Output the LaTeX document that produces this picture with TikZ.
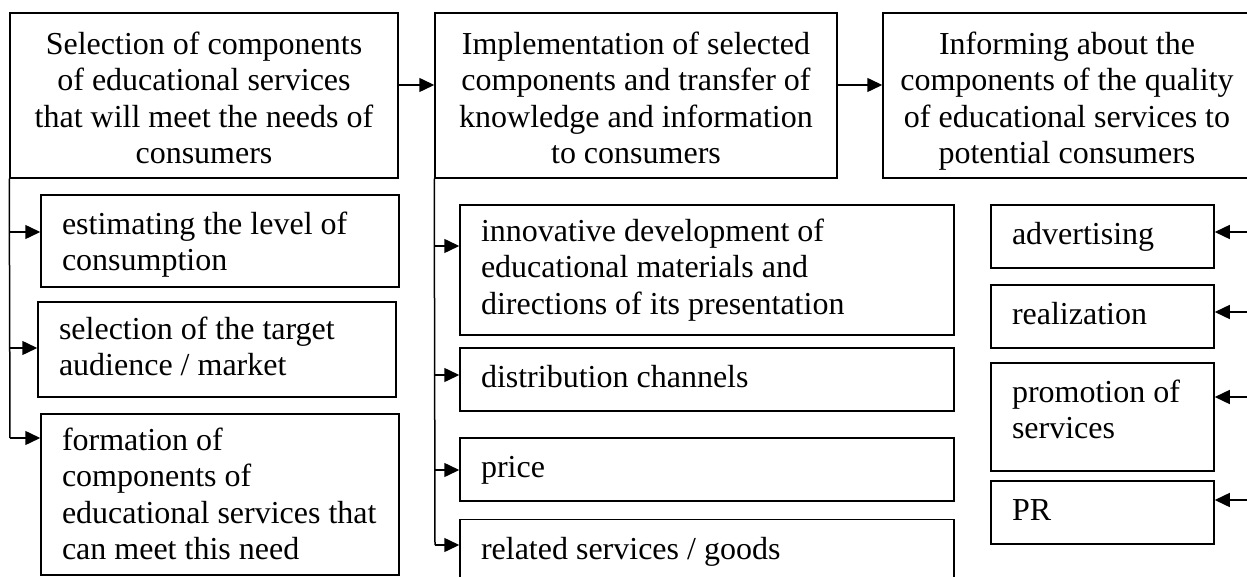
\documentclass[tikz,border=0pt]{standalone}
\usepackage{fontspec}
\setmainfont{Liberation Serif}
\usetikzlibrary{arrows.meta}
\begin{document}
\begin{tikzpicture}[x=1pt,y=-1pt,
  box/.style={draw,line width=1.5pt,inner sep=0pt,font=\fontsize{32}{36.5}\selectfont,
    execute at begin node={\spaceskip=8pt\xspaceskip=8pt\rule{0pt}{24pt}},
    execute at end node={\rule[-8pt]{0pt}{8pt}}},
  topbox/.style={box,align=center},
  subbox/.style={box,align=left},
  link/.style={line width=1.5pt},
  arr/.style={link,-{Triangle[length=15pt,width=14pt]}}]
\useasboundingbox (0,0) rectangle (1247,577);
% top row
\node[topbox,minimum width=388pt,minimum height=165pt,text width=376pt] (b1) at (204,95.5)
  {\rule{0pt}{35pt}Selection of components\\of educational services\\that will meet the needs of\\consumers};
\node[topbox,minimum width=402pt,minimum height=165pt,text width=390pt] (b2) at (636,95.5)
  {\rule{0pt}{35pt}Implementation of selected\\components and transfer of\\knowledge and information\\to consumers};
\node[topbox,minimum width=368pt,minimum height=165pt,text width=356pt] (b3) at (1067,95.5)
  {\rule{0pt}{35pt}Informing about the\\components of the quality\\of educational services to\\potential consumers};
\draw[arr] ([yshift=10.5pt]b1.east) -- ([yshift=10.5pt]b2.west);
\draw[arr] ([yshift=10.5pt]b2.east) -- ([yshift=10.5pt]b3.west);
% left column
\node[subbox,minimum width=358pt,minimum height=92pt,text width=316pt] (a1) at (220,241)
  {\rule{0pt}{31pt}estimating the level of\\consumption};
\node[subbox,minimum width=358pt,minimum height=95pt,text width=316pt] (a2) at (217,349.5)
  {selection of the target\\audience / market};
\node[subbox,minimum width=358pt,minimum height=161pt,text width=316pt] (a3) at (220,494.5)
  {\rule{0pt}{29pt}formation of\\components of\\\mbox{educational services that}\\can meet this need};
\coordinate (l1) at (10,232);
\coordinate (l2) at (10,348);
\coordinate (l3) at (10,438);
\draw[link] (b1.south west) -- (l3);
\draw[arr] (l1) -- (l1 -| a1.west);
\draw[arr] (l2) -- (l2 -| a2.west);
\draw[arr] (l3) -- (l3 -| a3.west);
% middle column
\node[subbox,minimum width=494pt,minimum height=130pt,text width=452pt] (m1) at (707,270)
  {innovative development of\\educational materials and\\directions of its presentation};
\node[subbox,minimum width=494pt,minimum height=63pt,text width=452pt] (m2) at (707,379.5)
  {distribution channels};
\node[subbox,minimum width=494pt,minimum height=63pt,text width=452pt] (m3) at (707,469.5)
  {price};
\node[subbox,minimum width=494pt,minimum height=63pt,text width=452pt] (m4) at (707,551)
  {related services / goods};
\coordinate (c1) at (435,246);
\coordinate (c2) at (435,375);
\coordinate (c3) at (435,470);
\coordinate (c4) at (435,545);
\draw[link] (b2.south west) -- (c4);
\draw[arr] (c1) -- (c1 -| m1.west);
\draw[arr] (c2) -- (c2 -| m2.west);
\draw[arr] (c3) -- (c3 -| m3.west);
\draw[arr] (c4) -- (c4 -| m4.west);
% right column
\node[subbox,minimum width=223pt,minimum height=63pt,text width=181pt] (r1) at (1102.5,236.5)
  {advertising};
\node[subbox,minimum width=223pt,minimum height=63pt,text width=181pt] (r2) at (1102.5,316.5)
  {realization};
\node[subbox,minimum width=223pt,minimum height=108pt,text width=181pt] (r3) at (1102.5,417)
  {promotion of\\services\rule[-17pt]{0pt}{17pt}};
\node[subbox,minimum width=223pt,minimum height=63pt,text width=181pt] (r4) at (1102.5,512.5)
  {PR};
\coordinate (e1) at (1252,232);
\coordinate (e2) at (1252,312);
\coordinate (e3) at (1252,397);
\coordinate (e4) at (1252,500);
\draw[arr] (e1) -- (e1 -| r1.east);
\draw[arr] (e2) -- (e2 -| r2.east);
\draw[arr] (e3) -- (e3 -| r3.east);
\draw[arr] (e4) -- (e4 -| r4.east);
\end{tikzpicture}
\end{document}
